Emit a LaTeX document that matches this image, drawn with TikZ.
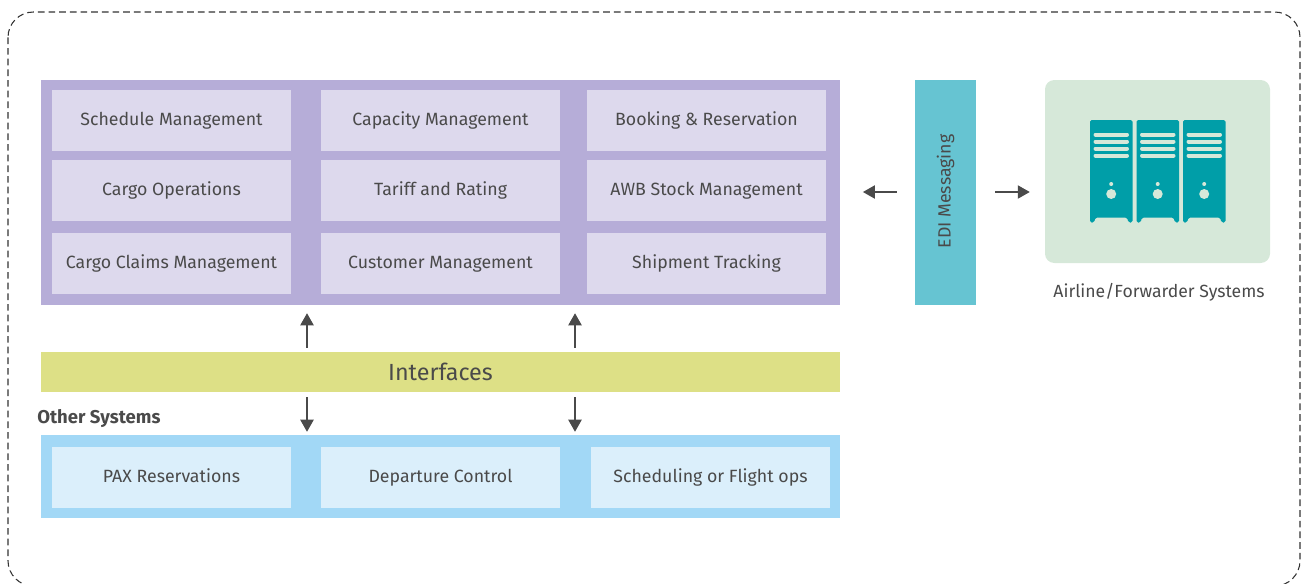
\documentclass[tikz,border=0pt]{standalone}
\usepackage{fontspec}
\setmainfont{Fira Sans}
\usetikzlibrary{arrows.meta}
\definecolor{purplecolor}{HTML}{B6ADD8}
\definecolor{purplecell}{HTML}{DDD9ED}
\definecolor{limecolor}{HTML}{DDE086}
\definecolor{bluecolor}{HTML}{A2D8F6}
\definecolor{bluecell}{HTML}{DBEFFB}
\definecolor{edicolor}{HTML}{66C4D2}
\definecolor{greencolor}{HTML}{D6E8D9}
\definecolor{tealcolor}{HTML}{009EA8}
\definecolor{inkcolor}{HTML}{4A4A4A}
\tikzset{
  panel/.style={inner sep=0pt,minimum width=599.25pt},
  cell/.style={inner sep=0pt,minimum width=179.25pt,minimum height=45.75pt,text height=9.8pt,text depth=3pt,text=inkcolor,font=\fontsize{13.3}{15}\selectfont},
  flow/.style={-{Triangle[length=9pt,width=10pt]},draw=inkcolor,line width=0.8pt}
}
\begin{document}
\begin{tikzpicture}[x=0.75pt,y=-0.75pt]
  \clip (0,0) rectangle (1301,583);
  \draw[black!80,line width=0.8pt,dash pattern=on 5pt off 3pt,rounded corners=19pt] (8,12) rectangle (1300,586);
  % panels
  \node[panel,fill=purplecolor,minimum height=168.75pt] (apps) at (440.5,192.5) {};
  \node[panel,fill=limecolor,minimum height=30pt,text height=13pt,text depth=0pt,text=inkcolor,font=\fontsize{17.5}{20}\selectfont] (interfaces) at (440.5,372) {Interfaces};
  \node[panel,fill=bluecolor,minimum height=62.25pt] (other) at (440.5,476.5) {};
  \node[fill=edicolor,inner sep=0pt,minimum width=45.75pt,minimum height=168.75pt] (edi) at (945.5,192.5) {};
  \node[rotate=90,text=inkcolor,font=\fontsize{13.3}{15}\selectfont] (edilabel) at (945.5,191.5) {EDI Messaging};
  \node[fill=greencolor,inner sep=0pt,minimum width=168.75pt,minimum height=137.25pt,rounded corners=7pt] (airline) at (1157.5,171.5) {};
  % cells
  \node[cell,fill=purplecell] (schedule) at (171.5,120.5) {Schedule Management};
  \node[cell,fill=purplecell] (capacity) at (440.5,120.5) {Capacity Management};
  \node[cell,fill=purplecell] (booking) at (706.5,120.5) {Booking \& Reservation};
  \node[cell,fill=purplecell] (cargoops) at (171.5,190.5) {Cargo Operations};
  \node[cell,fill=purplecell] (tariff) at (440.5,190.5) {Tariff and Rating};
  \node[cell,fill=purplecell] (awb) at (706.5,190.5) {AWB Stock Management};
  \node[cell,fill=purplecell] (claims) at (171.5,263.5) {Cargo Claims Management};
  \node[cell,fill=purplecell] (customer) at (440.5,263.5) {Customer Management};
  \node[cell,fill=purplecell] (tracking) at (706.5,263.5) {Shipment Tracking};
  \node[cell,fill=bluecell] (pax) at (171.5,477.5) {PAX Reservations};
  \node[cell,fill=bluecell] (departure) at (440.5,477.5) {Departure Control};
  \node[cell,fill=bluecell] (flightops) at (710.5,477.5) {Scheduling or Flight ops};
  % labels
  \node[text=inkcolor,font=\fontsize{13.2}{15}\selectfont] (airlinelabel) at (1159,292) {Airline/Forwarder Systems};
  \node[anchor=west,inner sep=0pt,text=inkcolor,font=\bfseries\fontsize{13.9}{15}\selectfont] (otherlabel) at (37,419) {Other Systems};
  % lockers
  \foreach \lx in {1090,1136.5,1183}{
    \fill[tealcolor,rounded corners=1.2pt] (\lx,120) -- (\lx+42.5,120) -- (\lx+42.5,222.5) -- (\lx+38.5,222.5) -- (\lx+37,217.5) -- (\lx+5.5,217.5) -- (\lx+4,222.5) -- (\lx,222.5) -- cycle;
    \foreach \ly in {134.5,141.5,148.5,155.5}
      \draw[greencolor,line width=3pt,line cap=round] (\lx+5.5,\ly) -- (\lx+37,\ly);
    \fill[greencolor] (\lx+21.2,184) circle (2);
    \fill[greencolor] (\lx+21.2,194) circle (5);
  }
  % arrows
  \coordinate (leftlink) at (307,330);
  \coordinate (rightlink) at (575,330);
  \coordinate (edilink) at (945,192);
  \draw[flow,shorten <=3pt,shorten >=6pt] (interfaces.north -| leftlink) -- (apps.south -| leftlink);
  \draw[flow,shorten <=3pt,shorten >=6pt] (interfaces.north -| rightlink) -- (apps.south -| rightlink);
  \draw[flow,shorten <=3.75pt,shorten >=2.25pt] (interfaces.south -| leftlink) -- (other.north -| leftlink);
  \draw[flow,shorten <=3.75pt,shorten >=2.25pt] (interfaces.south -| rightlink) -- (other.north -| rightlink);
  \draw[flow,shorten <=13.5pt,shorten >=17pt] (edi.west |- edilink) -- (apps.east |- edilink);
  \draw[flow,shorten <=14.25pt,shorten >=11.25pt] (edi.east |- edilink) -- (airline.west |- edilink);
\end{tikzpicture}
\end{document}
